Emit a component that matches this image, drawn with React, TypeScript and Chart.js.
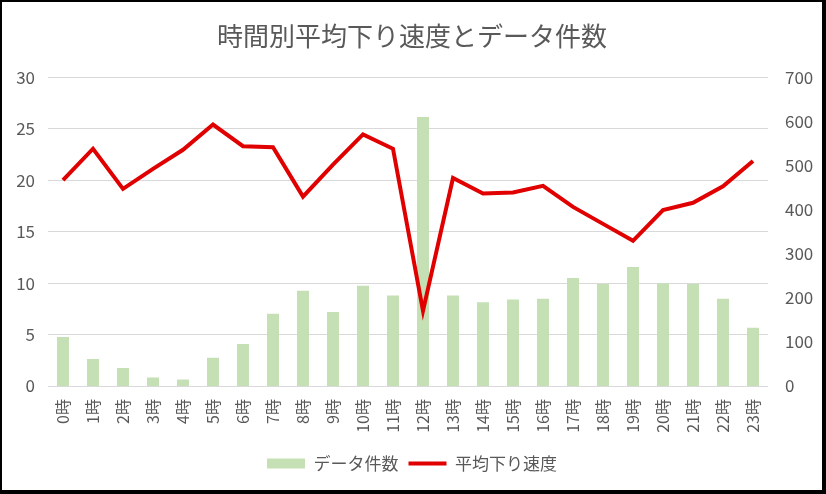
import React, { useEffect, useRef } from "react";
import { Chart, registerables } from "chart.js";

Chart.register(...registerables);

const hours: string[] = [
  "0時", "1時", "2時", "3時", "4時", "5時", "6時", "7時", "8時", "9時", "10時", "11時",
  "12時", "13時", "14時", "15時", "16時", "17時", "18時", "19時", "20時", "21時", "22時", "23時",
];

const dataCounts: number[] = [
  111, 61, 41, 19, 15, 64, 95, 164, 216, 168, 227, 205,
  610, 205, 190, 196, 198, 245, 231, 270, 233, 231, 198, 132,
];

const avgSpeeds: number[] = [
  20.0, 23.05, 19.15, 21.1, 22.95, 25.4, 23.3, 23.2, 18.4, 21.5, 24.45, 23.05,
  7.3, 20.2, 18.7, 18.8, 19.45, 17.4, 15.75, 14.1, 17.1, 17.8, 19.4, 21.85,
];

const leftTicks = { min: 0, max: 30, step: 5 };
const rightTicks = { min: 0, max: 700, step: 100 };

const TITLE = "時間別平均下り速度とデータ件数";
const FONT = "'Noto Sans CJK JP', 'Noto Sans', sans-serif";
const TEXT = "#595959";
const GRID = "#d9d9d9";

export default function App() {
  const ref = useRef<HTMLCanvasElement | null>(null);

  useEffect(() => {
    document.body.style.margin = "0";
    if (!ref.current) return;
    Chart.defaults.font.family = FONT;
    const chart = new Chart(ref.current, {
      type: "bar",
      data: {
        labels: hours,
        datasets: [
          {
            type: "bar",
            label: "データ件数",
            data: dataCounts,
            yAxisID: "y1",
            backgroundColor: "#c5e0b4",
            borderColor: "#c5e0b4",
            borderWidth: 0,
            barPercentage: 0.4,
            categoryPercentage: 1,
            order: 1,
            pointStyle: "rect",
          } as any,
          {
            type: "line",
            label: "平均下り速度",
            data: avgSpeeds,
            yAxisID: "y",
            borderColor: "#e00000",
            backgroundColor: "#e00000",
            borderWidth: 4,
            pointRadius: 0,
            pointHoverRadius: 0,
            tension: 0,
            order: 0,
            pointStyle: "line",
          } as any,
        ],
      },
      options: {
        responsive: false,
        animation: false,
        layout: { padding: { left: 0, right: 0, top: 0, bottom: 8 } },
        plugins: {
          title: {
            display: true,
            text: TITLE,
            color: TEXT,
            font: { size: 26, weight: "normal", family: FONT },
            padding: { top: 19, bottom: 25 },
          },
          legend: {
            position: "bottom",
            labels: {
              usePointStyle: true,
              pointStyleWidth: 38,
              boxHeight: 10,
              color: TEXT,
              font: { size: 17, family: FONT },
              padding: 10,
              sort: (a: any, b: any) => a.datasetIndex - b.datasetIndex,
            },
          },
          tooltip: { enabled: false },
        },
        scales: {
          x: {
            grid: { display: false, drawTicks: false },
            border: { display: false },
            ticks: {
              autoSkip: false,
              minRotation: 90,
              maxRotation: 90,
              color: TEXT,
              font: { size: 16, family: FONT },
              padding: 13,
            },
            afterFit: (s: any) => {
              s.height = 59;
            },
          },
          y: {
            position: "left",
            min: leftTicks.min,
            max: leftTicks.max,
            ticks: {
              stepSize: leftTicks.step,
              color: TEXT,
              font: { size: 17, family: FONT },
              padding: 13,
            },
            grid: { color: GRID, drawTicks: false, lineWidth: 1 },
            border: { display: false },
            afterFit: (s: any) => {
              s.width = 46;
            },
          },
          y1: {
            position: "right",
            min: rightTicks.min,
            max: rightTicks.max,
            ticks: {
              stepSize: rightTicks.step,
              color: TEXT,
              font: { size: 17, family: FONT },
              padding: 17,
            },
            grid: { display: false, drawTicks: false },
            border: { display: false },
            afterFit: (s: any) => {
              s.width = 54;
            },
          },
        },
      },
    });
    return () => chart.destroy();
  }, []);

  return (
    <div
      style={{
        width: 826,
        height: 494,
        boxSizing: "border-box",
        borderStyle: "solid",
        borderColor: "#000",
        borderWidth: "2px 4px 4px 2px",
        background: "#fff",
      }}
    >
      <canvas ref={ref} width={820} height={488} style={{ display: "block" }} />
    </div>
  );
}
